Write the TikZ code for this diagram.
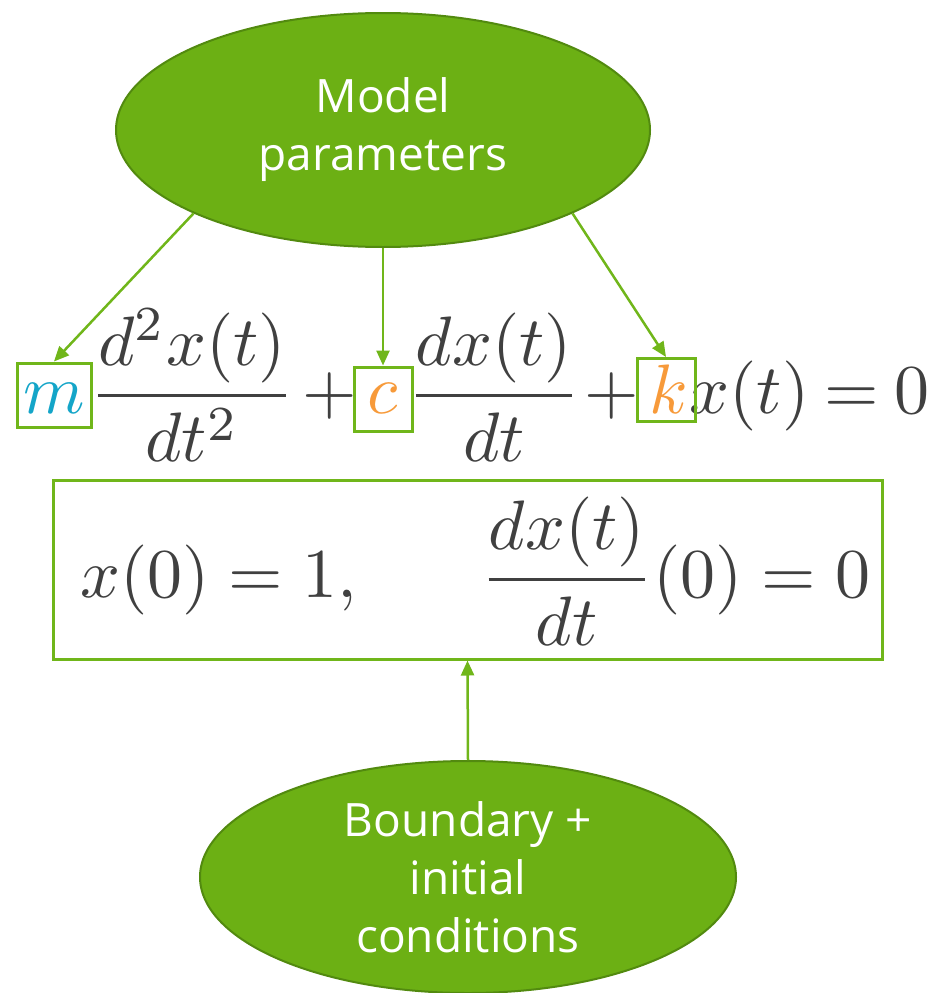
\documentclass[tikz,border=0pt]{standalone}
\usepackage{graphicx}
\usepackage{fontspec}
\setmainfont{Open Sans}
\usetikzlibrary{shapes.geometric,arrows.meta}
\definecolor{gfill}{RGB}{108,176,20}
\definecolor{gedge}{RGB}{82,138,15}
\definecolor{gline}{RGB}{112,182,26}
\definecolor{txt}{RGB}{64,64,64}
\definecolor{mcol}{RGB}{20,165,200}
\definecolor{ocol}{RGB}{247,154,58}
\newcommand{\eqbig}[1]{\scalebox{7}{\normalsize$\displaystyle #1$}}
\begin{document}
\begin{tikzpicture}[x=1pt,y=-1pt,
  bubble/.style={ellipse, fill=gfill, draw=gedge, line width=2pt, inner sep=0pt,
    text=white, align=center, font=\fontsize{46}{58}\selectfont},
  parbox/.style={draw=gline, line width=3pt, inner sep=0pt},
  eq/.style={text=txt, inner sep=0pt, anchor=base},
  link/.style={draw=gline, line width=2.5pt, -{Triangle[length=15pt,width=13pt]}}]
\useasboundingbox (0,0) rectangle (936,993);
% ellipses
\node[bubble, minimum width=534pt, minimum height=234pt] (top) at (383,130) {Model\\parameters};
\node[bubble, minimum width=536pt, minimum height=232pt] (bot) at (468,877) {Boundary +\\initial\\conditions};
% equation
\node[eq] (f1) at (192,413) {\eqbig{\frac{d^2x(t)}{dt^2}}};
\node[eq] (p1) at (330,413) {\eqbig{+}};
\node[eq] (f2) at (494,413) {\eqbig{\frac{dx(t)}{dt}}};
\node[eq] (p2) at (612,413) {\eqbig{+}};
\node[eq, anchor=base east] (rest) at (930,413) {\eqbig{x(t)\mskip4mu{=}\mskip4mu0}};
\node[parbox, minimum width=74pt, minimum height=64pt] (mb) at (54,395) {};
\node[eq, text=mcol] (mt) at (54,413) {\eqbig{m}};
\node[parbox, minimum width=58pt, minimum height=64pt] (cb) at (383,399) {};
\node[eq, text=ocol] (ct) at (383,413) {\eqbig{c}};
\node[parbox, minimum width=58pt, minimum height=63pt] (kb) at (666,390) {};
\node[eq, text=ocol] (kt) at (669,413) {\eqbig{k}};
% initial conditions box
\node[parbox, minimum width=829pt, minimum height=179pt] (bc) at (467.5,569.5) {};
\node[eq, anchor=base west] (ic1) at (80,597) {\eqbig{x(0)=1,}};
\node[eq, anchor=base west] (ic2) at (480,597) {\eqbig{\frac{dx(t)}{dt}(0)=0}};
% connectors
\draw[link] (top.south west) -- (mb.north);
\draw[link] (top.south) -- (cb.north);
\draw[link] (top.south east) -- (kb.north);
\draw[link] (bot.north) -- (bc.south);
\end{tikzpicture}
\end{document}
